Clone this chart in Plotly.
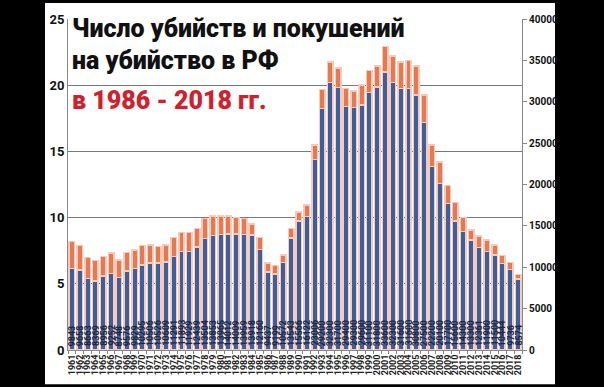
import plotly.graph_objects as go

years = list(range(1961, 2019))
murders = [9843, 9658, 8663, 8369, 8956, 9252, 8748, 9576, 9829, 10295,
           10506, 10526, 10609, 11291, 11893, 11929, 12439, 13504, 13853, 13965,
           14012, 14009, 13959, 13918, 12160, 9437, 9199, 10572, 13543, 15566,
           16122, 23006, 29200, 32300, 31700, 29400, 29300, 29600, 31100, 31800,
           33600, 32300, 31600, 31600, 30800, 27500, 22200, 20100, 17700, 15600,
           14300, 13300, 12361, 11900, 11500, 10444, 9736, 8574]
totals = [13100, 12600, 11200, 10800, 11300, 11700, 10900, 11800, 12100, 12600,
          12700, 12500, 12700, 13600, 14200, 14200, 14700, 15900, 16200, 16200,
          16200, 16000, 15900, 15200, 13600, 10500, 10200, 11500, 14700, 16700,
          17500, 24800, 31500, 34800, 34100, 31600, 31300, 32000, 33800, 34300,
          36700, 35500, 34800, 35000, 34300, 30800, 24800, 22700, 19900, 17800,
          16000, 14500, 13800, 13300, 12700, 11400, 10600, 9100]
attempts = [t - m for t, m in zip(totals, murders)]

left_ticks = [0, 5, 10, 15, 20, 25]
right_ticks = [0, 5000, 10000, 15000, 20000, 25000, 30000, 35000, 40000]
title_lines = ["Число убийств и покушений", "на убийство в РФ", "в 1986 - 2018 гг."]

xcat = [str(y) for y in years]
BLUE = "#3f5e9c"
ORANGE = "#e8784f"
EDGE = "#f7cbbb"
FONT = "Roboto"

fig = go.Figure()
fig.add_trace(go.Bar(
    x=xcat, y=murders, marker=dict(color=BLUE, line=dict(color=EDGE, width=1.5)),
    showlegend=False, hoverinfo="skip"))
fig.add_trace(go.Bar(
    x=xcat, y=attempts, marker=dict(color=ORANGE, line=dict(color=EDGE, width=1.5)),
    showlegend=False, hoverinfo="skip"))
fig.add_trace(go.Scatter(
    x=[xcat[0]], y=[0], yaxis="y2", mode="markers", marker=dict(opacity=0),
    showlegend=False, hoverinfo="skip"))

# value labels inside the blue bars (category index positions)
for i, m in enumerate(murders):
    fig.add_annotation(x=i, y=0, xref="x", yref="y", text=str(m), textangle=-90,
                       showarrow=False, xanchor="center", yanchor="bottom", yshift=2,
                       font=dict(family=FONT, size=9, color="#1b2744", weight="bold"))

fig.update_layout(
    width=604, height=387,
    margin=dict(l=68, r=82, t=13, b=32),
    paper_bgcolor="black", plot_bgcolor="white",
    barmode="stack", bargap=0.3,
    font=dict(family=FONT, color="#111"),
    xaxis=dict(type="category", categoryorder="array", categoryarray=xcat,
               range=[-0.5, len(xcat) - 0.5],
               tickmode="array", tickvals=xcat, ticktext=xcat,
               tickangle=-90, tickfont=dict(size=9, family=FONT, weight="bold", color="#222"),
               ticks="outside", tickson="boundaries", ticklen=3, tickcolor="#888",
               showline=True, linecolor="#888", linewidth=1, showgrid=False),
    yaxis=dict(range=[0, 40000], tickmode="array",
               tickvals=[v * 1600 for v in left_ticks], ticktext=[str(v) for v in left_ticks],
               showgrid=True, gridcolor="#7a7a7a", gridwidth=1,
               showline=True, linecolor="#888", linewidth=1, zeroline=False,
               ticks="", tickfont=dict(size=13, family=FONT, weight="bold", color="#111")),
    yaxis2=dict(range=[0, 40000], overlaying="y", side="right", tickmode="array",
                tickvals=right_ticks, ticktext=[str(v) for v in right_ticks],
                showgrid=False, showline=True, linecolor="#888", linewidth=1,
                ticks="outside", ticklen=4, tickcolor="#888", zeroline=False,
                tickfont=dict(size=10, family=FONT, weight="bold", color="#111")),
)

# white chart card over black background
fig.add_shape(type="rect", xref="paper", yref="paper",
              x0=(45 - 68) / 454, x1=(555 - 68) / 454,
              y0=(355 - 387) / 342 - 0.01, y1=(355 - 0) / 342 + 0.01,
              fillcolor="white", line=dict(width=0), layer="below")

ys = [1.022, 0.925, 0.805]
cols = ["#111111", "#111111", "#d0202e"]
for txt, yy, c in zip(title_lines, ys, cols):
    fig.add_annotation(text=txt, xref="paper", yref="paper", x=0.005, y=yy,
                       xanchor="left", yanchor="top", showarrow=False,
                       font=dict(family=FONT, size=25, color=c, weight=900))

fig.write_html("out.html")
